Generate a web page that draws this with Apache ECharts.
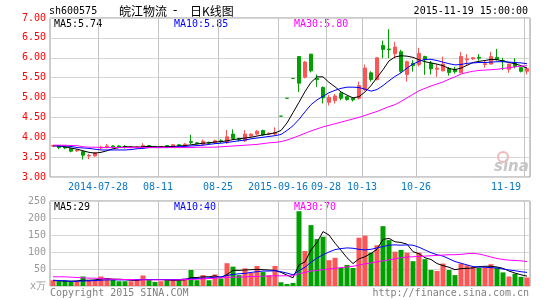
<!DOCTYPE html>
<html><head><meta charset="utf-8">
<script src="https://cdn.jsdelivr.net/npm/echarts@6/dist/echarts.min.js"></script>
<style>html,body{margin:0;padding:0;background:#fff}#c{width:545px;height:300px}</style>
</head><body><div id="c"></div>
<script>
// ---- categories (trading days) ----
const dates = [
 '2014-07-16','2014-07-17','2014-07-18','2014-07-21','2014-07-22','2014-07-23','2014-07-24','2014-07-25','2014-07-28','2014-07-29',
 '2014-07-30','2014-07-31','2014-08-01','2014-08-04','2014-08-05','2014-08-06','2014-08-07','2014-08-08','2014-08-11','2014-08-12',
 '2014-08-13','2014-08-14','2014-08-15','2014-08-18','2014-08-19','2014-08-20','2014-08-21','2014-08-22','2014-08-25','2014-08-26',
 '2014-08-27','2014-08-28','2014-08-29','2014-09-01','2014-09-02','2014-09-03','2014-09-04','2014-09-05','2015-09-16','2015-09-17',
 '2015-09-18','2015-09-21','2015-09-22','2015-09-23','2015-09-24','2015-09-25','2015-09-28','2015-09-29','2015-09-30','2015-10-08',
 '2015-10-09','2015-10-12','2015-10-13','2015-10-14','2015-10-15','2015-10-16','2015-10-19','2015-10-20','2015-10-21','2015-10-22',
 '2015-10-23','2015-10-26','2015-10-27','2015-10-28','2015-10-29','2015-10-30','2015-11-02','2015-11-03','2015-11-04','2015-11-05',
 '2015-11-06','2015-11-09','2015-11-10','2015-11-11','2015-11-12','2015-11-13','2015-11-16','2015-11-17','2015-11-18','2015-11-19'];

// ---- price series ----
const opens = [3.78,3.79,3.76,3.72,3.66,3.64,3.53,3.53,3.73,3.76, 3.78,3.78,3.77,3.74,3.74,3.77,3.79,3.77,3.75,3.79,
 3.76,3.81,3.81,3.89,3.86,3.82,3.87,3.86,3.91,3.87, 4.08,3.96,3.91,4.03,4.08,4.17,4.08,4.08,4.53,4.98,
 5.48,6.03,5.51,6.09,5.48,5.25,4.88,4.92,5.11,5.02, 4.98,4.98,5.19,5.62,5.45,6.31,6.22,6.10,6.15,5.58,
 5.86,5.83,6.03,5.86,5.71,5.67,5.73,5.71,5.62,5.95, 5.97,6.01,5.83,5.84,6.01,5.93,5.71,5.86,5.75,5.66];
const closes = [3.79,3.74,3.73,3.65,3.67,3.55,3.54,3.61,3.75,3.78, 3.76,3.75,3.76,3.75,3.76,3.79,3.77,3.76,3.77,3.77,
 3.81,3.79,3.83,3.87,3.84,3.90,3.85,3.91,3.89,4.01, 3.97,3.94,4.08,4.08,4.15,4.06,4.10,4.12,4.53,4.98,
 5.48,5.36,5.89,5.67,5.45,4.99,5.00,5.04,4.98,4.95, 4.94,5.30,5.74,5.45,6.00,6.21,6.20,6.27,5.66,5.90,
 5.80,6.11,5.95,5.72,5.74,5.84,5.63,5.65,6.03,5.97, 6.00,5.99,5.85,6.03,5.96,5.91,5.84,5.78,5.66,5.73];
const lows = [3.76,3.70,3.70,3.62,3.63,3.44,3.45,3.51,3.69,3.72, 3.73,3.73,3.72,3.72,3.72,3.75,3.75,3.74,3.74,3.75,
 3.75,3.76,3.80,3.83,3.82,3.80,3.83,3.84,3.86,3.83, 3.93,3.90,3.88,4.00,4.05,4.03,4.05,4.05,4.53,4.98,
 5.48,5.14,5.48,5.63,5.27,4.85,4.80,4.85,4.93,4.92, 4.90,4.95,5.17,5.40,5.43,5.99,5.99,5.99,5.62,5.40,
 5.65,5.78,5.57,5.58,5.52,5.66,5.55,5.60,5.61,5.82, 5.95,5.93,5.75,5.83,5.93,5.69,5.62,5.73,5.63,5.58];
const highs = [3.81,3.80,3.77,3.73,3.69,3.66,3.58,3.63,3.79,3.83, 3.80,3.80,3.80,3.77,3.78,3.85,3.80,3.78,3.78,3.80,
 3.83,3.83,3.85,4.06,3.88,3.94,3.89,3.94,3.95,4.18, 4.20,3.99,4.18,4.10,4.18,4.19,4.12,4.25,4.53,4.98,
 5.48,6.03,5.92,6.10,5.58,5.28,5.06,5.09,5.14,5.04, 5.00,5.40,5.83,5.66,6.00,6.43,6.72,6.40,6.20,5.93,
 5.94,6.25,6.05,5.92,5.84,6.03,5.77,5.77,6.15,6.09, 6.02,6.09,5.93,6.15,6.22,6.00,5.85,5.99,5.77,5.76];
const ma5 = [3.79,3.78,3.76,3.73,3.70,3.66,3.62,3.60,3.62,3.66, 3.71,3.74,3.76,3.76,3.75,3.76,3.77,3.76,3.76,3.76,
 3.77,3.78,3.79,3.81,3.83,3.85,3.86,3.88,3.89,3.91, 3.94,3.96,3.98,4.00,4.03,4.06,4.08,4.11,4.17,4.36,
 4.62,4.88,5.15,5.38,5.52,5.52,5.38,5.27,5.14,5.06, 4.99,5.02,5.14,5.30,5.50,5.70,5.92,6.02,6.05,6.04,
 6.01,5.95,5.90,5.87,5.84,5.80,5.73,5.70,5.74,5.81, 5.88,5.91,5.93,5.96,5.95,5.92,5.88,5.85,5.80,5.74];
const ma10 = [3.78,3.78,3.78,3.77,3.74,3.73,3.72,3.70,3.68,3.68, 3.68,3.68,3.68,3.69,3.71,3.72,3.74,3.74,3.74,3.74,
 3.75,3.76,3.77,3.78,3.79,3.80,3.82,3.84,3.85,3.87, 3.89,3.91,3.93,3.96,3.98,4.00,4.02,4.04,4.07,4.17,
 4.29,4.45,4.64,4.82,4.94,5.03,5.12,5.18,5.23,5.26, 5.26,5.25,5.21,5.16,5.20,5.30,5.42,5.53,5.62,5.74,
 5.84,5.91,5.96,5.96,5.93,5.89,5.85,5.82,5.83,5.86, 5.87,5.88,5.88,5.89,5.90,5.90,5.89,5.88,5.87,5.85];
const ma30 = [3.80,3.80,3.80,3.79,3.79,3.76,3.75,3.75,3.74,3.74, 3.74,3.74,3.74,3.74,3.74,3.74,3.74,3.74,3.74,3.74,
 3.74,3.74,3.74,3.74,3.75,3.75,3.75,3.75,3.76,3.77, 3.78,3.79,3.80,3.81,3.82,3.84,3.86,3.87,3.89,3.93,
 3.98,4.04,4.10,4.16,4.21,4.26,4.30,4.34,4.38,4.42, 4.46,4.50,4.55,4.60,4.65,4.71,4.77,4.82,4.90,4.99,
 5.08,5.17,5.23,5.29,5.34,5.39,5.46,5.52,5.59,5.63, 5.66,5.68,5.69,5.70,5.71,5.73,5.75,5.77,5.79,5.80];

// ---- volume series (x万) ----
const volumes = [17,14,15,12,14,28,16,17,28,22, 18,14,14,14,18,31,18,12,14,18,
 20,18,22,47,17,32,17,34,22,67, 57,32,52,39,59,41,32,59,11,6,
 9,220,103,179,138,145,76,83,53,62, 53,142,148,98,120,176,135,101,106,98,
 73,98,79,47,44,66,47,32,66,61, 57,54,54,64,54,40,28,36,27,25];
const vma5 = [16,15,15,14,15,17,17,18,21,22, 20,20,19,17,16,19,19,19,19,18,
 16,17,18,25,25,27,27,30,25,34, 46,46,47,48,49,48,47,46,40,32,
 24,62,71,106,128,160,150,126,105,83, 66,80,86,96,108,137,140,130,128,123,
 101,95,83,78,66,60,55,48,51,52, 53,57,58,58,56,52,44,38,33,29];
const vma10 = [17,16,15,14,14,15,15,16,17,18, 18,18,18,18,19,19,19,19,19,19,
 19,19,20,21,22,23,24,26,27,31, 34,36,37,40,42,44,44,45,42,38,
 33,45,55,70,82,92,100,107,110,112, 111,108,106,108,112,116,120,121,120,121,
 120,114,106,98,92,88,80,72,67,62, 57,56,55,54,53,50,47,45,42,40];
const vma30 = [27,27,27,26,25,24,23,23,22,21, 20,19,19,19,18,18,18,18,18,18,
 18,18,19,19,20,21,22,23,24,25, 26,26,27,28,28,29,29,30,30,30,
 30,36,40,44,46,48,50,52,54,56, 58,62,65,68,71,74,77,80,83,85,
 86,87,88,89,90,91,92,92,93,95, 96,94,90,85,81,78,76,75,74,72];

// ---- tick labels ----
const tickDates = ['2014-07-28','2014-08-11','2014-08-25','2015-09-16','2015-09-28','2015-10-13','2015-10-26','2015-11-19'];
const tickTexts = ['2014-07-28','08-11','08-25','2015-09-16','09-28','10-13','10-26','11-19'];
const priceMin = 3, priceMax = 7, priceStep = 0.5;
const volMin = 0, volMax = 250, volStep = 50;
const volUnit = 'x万';
const header = {code:'sh600575', name:'皖江物流', sep:'-', kind:'日K线图', time:'2015-11-19 15:00:00'};
const maText = ['MA5:5.74','MA10:5.85','MA30:5.80'];
const vmaText = ['MA5:29','MA10:40','MA30:70'];

const UP = '#ff5555', DOWN = '#00a000';
const MONO = 'DejaVu Sans Mono';
const isTick = (i, v) => tickDates.indexOf(v) >= 0;
const fmtX = v => { const k = tickDates.indexOf(v); return k >= 0 ? tickTexts[k] : ''; };

const candleData = dates.map((d, i) => {
  const item = { value: [opens[i], closes[i], lows[i], highs[i]] };
  if (opens[i] === closes[i]) item.itemStyle = { color: DOWN, color0: DOWN, borderColor: DOWN, borderColor0: DOWN };
  return item;
});
const volData = volumes.map((v, i) => ({ value: v, itemStyle: { color: closes[i] > opens[i] ? UP : DOWN } }));

const chart = echarts.init(document.getElementById('c'));
const mkGrid = (top, height) => ({ left: 50, width: 480, top, height, show: true, borderColor: '#999', borderWidth: 1 });
const mkV = () => ({ show: true, interval: isTick, lineStyle: { color: '#c4c4c4', type: 'solid', width: 1 } });
const mkH = () => ({ show: true, lineStyle: { color: '#d6d6d6', type: 'solid', width: 1 } });

const lineS = (name, data, color, xi, yi) => ({
  name, type: 'line', data, xAxisIndex: xi, yAxisIndex: yi, showSymbol: false, symbol: 'none',
  lineStyle: { color, width: 1 }, itemStyle: { color }, z: 5, silent: true
});

chart.setOption({
  animation: false,
  grid: [ mkGrid(18, 159), mkGrid(201, 85) ],
  xAxis: [
    { type: 'category', data: dates, gridIndex: 0,
      axisLine: { show: false }, axisTick: { show: false }, splitLine: mkV(),
      axisLabel: { interval: isTick, formatter: fmtX, color: '#0a78c8', padding: [0, 6, 0, 0],
        fontFamily: MONO, fontSize: 10, margin: 5, alignMaxLabel: 'right', showMaxLabel: true } },
    { type: 'category', data: dates, gridIndex: 1,
      axisLine: { show: false }, axisTick: { show: false }, splitLine: mkV(), axisLabel: { show: false } }
  ],
  yAxis: [
    { type: 'value', gridIndex: 0, min: priceMin, max: priceMax, interval: priceStep,
      axisLine: { show: false }, axisTick: { show: false }, splitLine: mkH(),
      axisLabel: { color: '#ff0000', fontFamily: MONO, fontSize: 10, margin: 4, formatter: v => Number(v).toFixed(2) } },
    { type: 'value', gridIndex: 1, min: volMin, max: volMax, interval: volStep,
      axisLine: { show: false }, axisTick: { show: false }, splitLine: mkH(),
      axisLabel: { color: '#999', fontFamily: MONO, fontSize: 10, margin: 4, formatter: v => Number(v) === 0 ? volUnit : String(v) } }
  ],
  series: [
    { name: 'K', type: 'candlestick', xAxisIndex: 0, yAxisIndex: 0, data: candleData, barWidth: 4,
      itemStyle: { color: UP, color0: DOWN, borderColor: UP, borderColor0: DOWN, borderWidth: 1 }, z: 3 },
    { name: 'VOL', type: 'bar', xAxisIndex: 1, yAxisIndex: 1, data: volData, barWidth: 5, z: 3 },
    lineS('MA5', ma5, '#000', 0, 0), lineS('MA10', ma10, '#0000ff', 0, 0), lineS('MA30', ma30, '#ff00ff', 0, 0),
    lineS('VMA5', vma5, '#000', 1, 1), lineS('VMA10', vma10, '#0000ff', 1, 1), lineS('VMA30', vma30, '#ff00ff', 1, 1)
  ],
  graphic: [
    { type: 'text', left: 49, top: 6, style: { text: header.code, font: '10px ' + MONO, fill: '#000' } },
    { type: 'text', left: 119, top: 5, style: { text: header.name, font: '12px "Noto Sans CJK SC"', fill: '#000' } },
    { type: 'text', left: 173, top: 5, style: { text: header.sep, font: '12px "DejaVu Sans"', fill: '#000' } },
    { type: 'text', left: 190, top: 5, style: { text: header.kind, font: '12px "Noto Sans CJK SC"', fill: '#000' } },
    { type: 'text', right: 17, top: 6, style: { text: header.time, font: '10px ' + MONO, fill: '#000' } },
    { type: 'text', left: 54, top: 19, style: { text: maText[0], font: '10px ' + MONO, fill: '#000' } },
    { type: 'text', left: 174, top: 19, style: { text: maText[1], font: '10px ' + MONO, fill: '#0000ff' } },
    { type: 'text', left: 294, top: 19, style: { text: maText[2], font: '10px ' + MONO, fill: '#ff00ff' } },
    { type: 'text', left: 54, top: 202, style: { text: vmaText[0], font: '10px ' + MONO, fill: '#000' } },
    { type: 'text', left: 174, top: 202, style: { text: vmaText[1], font: '10px ' + MONO, fill: '#0000ff' } },
    { type: 'text', left: 294, top: 202, style: { text: vmaText[2], font: '10px ' + MONO, fill: '#ff00ff' } },
    { type: 'text', left: 50, top: 288, style: { text: 'Copyright 2015 SINA.COM', font: '10px ' + MONO, fill: '#808080' } },
    { type: 'text', right: 16, top: 288, style: { text: 'http://finance.sina.com.cn', font: '10px ' + MONO, fill: '#808080' } },
    { type: 'circle', shape: { cx: 503, cy: 157, r: 5 }, style: { fill: 'none', stroke: '#f2b8b8', lineWidth: 2 }, z: 1 },
    { type: 'text', left: 494, top: 160, style: { text: 'sina', font: 'italic bold 15px "DejaVu Sans"', fill: '#c6c6c6' }, z: 1 }
  ]
});
</script>
</body></html>
